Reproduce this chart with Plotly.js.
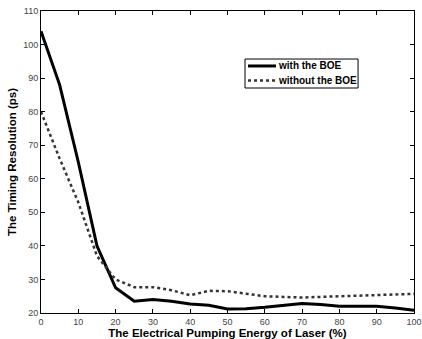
<!DOCTYPE html>
<html>
<head>
<meta charset="utf-8">
<script src="https://cdn.plot.ly/plotly-3.0.1.min.js"></script>
<style>
  html, body { margin: 0; padding: 0; background: #fff; }
  #chart { width: 422px; height: 339px; }
</style>
</head>
<body>
<div id="chart"></div>
<script>
// Pumping energy (%) sampled every 5 %
const energy = [0, 5, 10, 15, 20, 25, 30, 35, 40, 45, 50, 55, 60, 65, 70, 75, 80, 85, 90, 95, 100];
// Timing resolution (ps)
const withBOE = [104, 88, 65, 40, 27.5, 23.5, 24, 23.5, 22.7, 22.3, 21.2, 21.3, 21.7, 22.2, 22.8, 22.5, 22.0, 22.0, 22.0, 21.5, 20.8];
const withoutBOE = [80, 66, 53, 37, 30, 27.7, 27.7, 26.8, 25.3, 26.6, 26.5, 25.8, 25.0, 24.8, 24.6, 24.8, 25.0, 25.1, 25.2, 25.4, 25.7];
const seriesNames = ['with the BOE', 'without the BOE'];
const xTicks = [0, 10, 20, 30, 40, 50, 60, 70, 80, 90, 100];
const yTicks = [20, 30, 40, 50, 60, 70, 80, 90, 100, 110];

const FONT = 'Liberation Sans, Arial, sans-serif';
const styles = [
  { color: '#000', width: 3, dash: 'solid' },
  { color: '#333', width: 2.5, dash: 'dot' }
];

const traces = [
  { x: energy, y: withBOE, name: seriesNames[0], mode: 'lines', line: styles[0] },
  { x: energy, y: withoutBOE, name: seriesNames[1], mode: 'lines', line: styles[1] }
];

// Compact boxed legend drawn in paper coordinates
const legBox = { x0: 0.547, x1: 0.850, y0: 0.745, y1: 0.841 };
const legRows = [0.818, 0.770];
const shapes = [
  { type: 'rect', xref: 'paper', yref: 'paper', x0: legBox.x0, x1: legBox.x1, y0: legBox.y0, y1: legBox.y1,
    line: { color: '#000', width: 1 }, fillcolor: '#fff', layer: 'above' }
];
const annotations = [];
legRows.forEach((yy, i) => {
  shapes.push({ type: 'line', xref: 'paper', yref: 'paper', x0: 0.555, x1: 0.630, y0: yy, y1: yy,
    line: { color: styles[i].color, width: styles[i].width, dash: styles[i].dash }, layer: 'above' });
  annotations.push({ xref: 'paper', yref: 'paper', x: 0.630, y: yy, xanchor: 'left', yanchor: 'middle',
    showarrow: false, text: seriesNames[i],
    font: { family: FONT, size: 10, color: '#000', weight: 'bold' } });
});

const axisCommon = {
  showgrid: false, zeroline: false, showline: true, mirror: 'ticks',
  linecolor: '#000', linewidth: 1, ticks: 'inside', ticklen: 4,
  tickcolor: '#000', ticklabeloverflow: 'allow',
  tickfont: { family: FONT, size: 9, color: '#444' }
};

const layout = {
  width: 422, height: 339,
  margin: { l: 41, r: 8, t: 11, b: 26 },
  paper_bgcolor: '#fff', plot_bgcolor: '#fff',
  showlegend: false,
  shapes: shapes,
  annotations: annotations,
  xaxis: Object.assign({}, axisCommon, {
    range: [0, 100], tickvals: xTicks, automargin: false,
    title: { text: 'The Electrical Pumping Energy of Laser (%)', standoff: 0,
             font: { family: FONT, size: 11.5, color: '#000', weight: 'bold' } }
  }),
  yaxis: Object.assign({}, axisCommon, {
    range: [20, 110], tickvals: yTicks, automargin: false,
    title: { text: 'The Timing Resolution (ps)', standoff: 4,
             font: { family: FONT, size: 11.5, color: '#000', weight: 'bold' } }
  })
};

Plotly.newPlot('chart', traces, layout, { displayModeBar: false, staticPlot: true });
</script>
</body>
</html>
